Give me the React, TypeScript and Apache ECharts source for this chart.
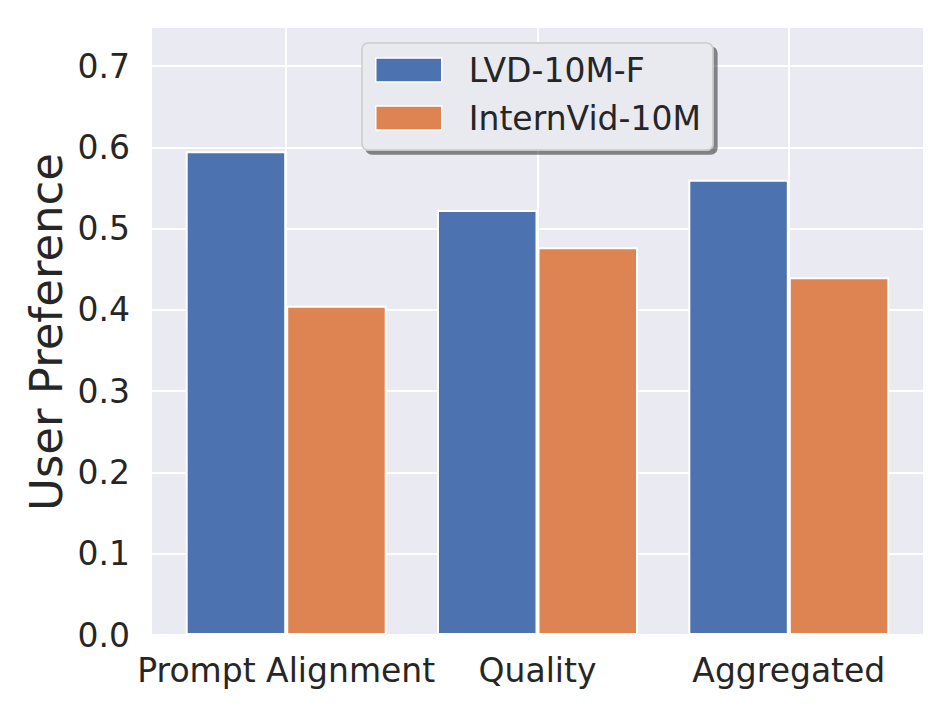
import React, { useEffect, useRef } from "react";
import * as echarts from "echarts";

const categories = ["Prompt Alignment", "Quality", "Aggregated"];
const seriesNames = ["LVD-10M-F", "InternVid-10M"];
const lvdValues = [0.595, 0.523, 0.56];
const internVidValues = [0.405, 0.477, 0.44];
const yTicks = [0, 0.1, 0.2, 0.3, 0.4, 0.5, 0.6, 0.7];
const categoryPositions = [0, 1, 2];

const FONT = "DejaVu Sans";
const TEXT = "#262626";

export default function App() {
  const ref = useRef<HTMLDivElement>(null);
  useEffect(() => {
    if (!ref.current) return;
    const chart = echarts.init(ref.current, undefined, { renderer: "svg" });
    const toPairs = (vals: number[]) => vals.map((v, i) => [categoryPositions[i], v]);
    chart.setOption({
      animation: false,
      backgroundColor: "#ffffff",
      textStyle: { fontFamily: FONT },
      grid: {
        left: 152,
        right: 28,
        top: 27,
        bottom: 78,
        show: true,
        backgroundColor: "#EAEAF2",
        borderWidth: 0,
      },
      legend: {
        orient: "vertical",
        left: 362,
        top: 43,
        data: seriesNames,
        icon: "rect",
        itemWidth: 66,
        itemHeight: 24,
        itemGap: 15,
        padding: [10.5, 12, 15.5, 13],
        backgroundColor: "#E9E9F0",
        borderColor: "#CCCCCC",
        borderWidth: 1.5,
        borderRadius: 6,
        shadowColor: "rgba(0,0,0,0.45)",
        shadowBlur: 0.5,
        shadowOffsetX: 4,
        shadowOffsetY: 4,
        itemStyle: { borderColor: "#ffffff", borderWidth: 1.5 },
        textStyle: {
          fontSize: 33,
          lineHeight: 33,
          color: TEXT,
          fontFamily: FONT,
          padding: [0, 0, 0, 22],
        },
      },
      xAxis: {
        type: "value",
        min: -0.534,
        max: 2.534,
        axisLine: { show: false },
        axisTick: { show: false, customValues: categoryPositions },
        splitLine: { show: true, lineStyle: { color: "#ffffff", width: 2 } },
        axisLabel: {
          customValues: categoryPositions,
          formatter: (v: number) => categories[Math.round(v)] ?? "",
          fontSize: 33,
          color: TEXT,
          fontFamily: FONT,
          margin: 19,
        },
      },
      yAxis: {
        type: "value",
        min: 0,
        max: 0.748,
        interval: 0.1,
        axisLine: { show: false },
        axisTick: { show: false },
        splitLine: { show: true, lineStyle: { color: "#ffffff", width: 2 } },
        axisLabel: {
          showMaxLabel: false,
          formatter: (v: number) => (yTicks.some((t) => Math.abs(t - v) < 1e-6) ? v.toFixed(1) : ""),
          fontSize: 33,
          color: TEXT,
          fontFamily: FONT,
          margin: 22,
        },
      },
      graphic: [
        {
          type: "text",
          x: 46,
          y: 332,
          rotation: Math.PI / 2,
          style: {
            text: "User Preference",
            fontSize: 45,
            fontFamily: FONT,
            fill: TEXT,
            align: "center",
            verticalAlign: "middle",
          },
        },
      ],
      series: [
        {
          name: seriesNames[0],
          type: "bar",
          data: toPairs(lvdValues),
          barWidth: 100.5,
          barGap: "0%",
          itemStyle: { color: "#4C72B0", borderColor: "#ffffff", borderWidth: 2 },
        },
        {
          name: seriesNames[1],
          type: "bar",
          data: toPairs(internVidValues),
          barWidth: 100.5,
          barGap: "0%",
          itemStyle: { color: "#DD8452", borderColor: "#ffffff", borderWidth: 2 },
        },
      ],
    });
    return () => chart.dispose();
  }, []);
  return (
    <div
      ref={ref}
      style={{ position: "fixed", left: 0, top: 0, width: 951, height: 713 }}
    />
  );
}
